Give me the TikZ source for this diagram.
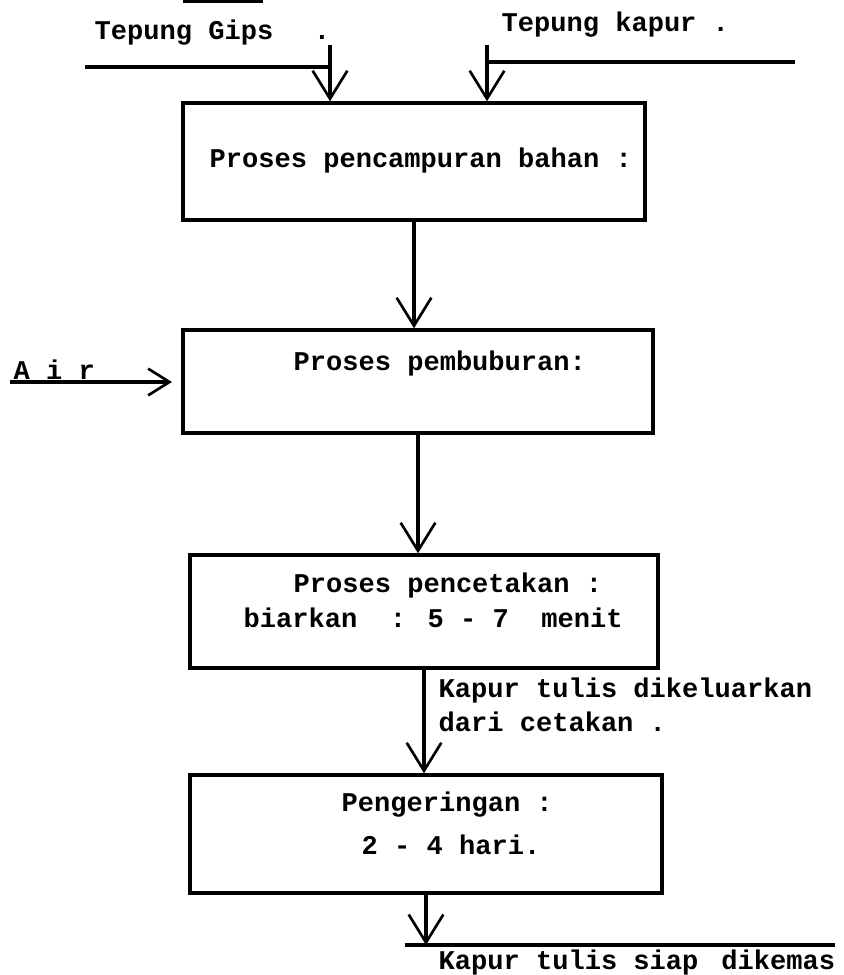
\documentclass[tikz,border=0pt]{standalone}
\usepackage{fontspec}
\setmainfont{Liberation Mono}
\usetikzlibrary{arrows.meta}
\begin{document}
\begin{tikzpicture}[x=0.75pt,y=-0.75pt,
  line width=2.4pt,
  box/.style={draw,line width=2.6pt,minimum width=#1,inner sep=0pt},
  txt/.style={font=\fontsize{20.3}{24}\selectfont\bfseries,inner sep=0pt,anchor=west},
  arr/.style={-{Straight Barb[length=21pt,width=26pt,line width=2pt]}},
  arrs/.style={-{Straight Barb[length=16pt,width=20pt,line width=2pt]}}]
\useasboundingbox (0,0) rectangle (843,975);
% boxes
\node[box=346.5pt,minimum height=87.75pt] (b1) at (414,161.5) {};
\node[box=352.5pt,minimum height=77.25pt] (b2) at (418,381.5) {};
\node[box=351pt,minimum height=84.75pt] (b3) at (424,611.5) {};
\node[box=354pt,minimum height=88.5pt] (b4) at (426,834) {};
% texts
\node[txt] (tg) at (93,33) {Tepung Gips~~\hspace{0.3em}.};
\node[txt] (tk) at (500,25) {Tepung kapur .};
\node[txt] (t1) at (208,160) {Proses pencampuran bahan :};
\node[txt] (t2) at (292,363) {Proses pembuburan:};
\node[txt] (air) at (12,370) {A i r};
\node[txt] (t3a) at (292,585) {Proses pencetakan :};
\node[txt] (t3b) at (242,618) {biarkan~~: 5 - 7~~menit};
\node[txt] (k1) at (437,690) {Kapur tulis dikeluarkan};
\node[txt] (k2) at (437,722) {dari cetakan .};
\node[txt] (t4a) at (340,805) {Pengeringan :};
\node[txt] (t4b) at (360,845) {2 - 4 hari.};
\node[txt] (fin) at (437,962) {Kapur tulis siap\hspace{0.25em} dikemas};
% coordinates
\coordinate (gtop) at (330,45);
\coordinate (gl) at (85,67);
\coordinate (ktop) at (487,45);
\coordinate (kr) at (795,62);
\coordinate (as) at (10,382);
\coordinate (ae) at (172,382);
\coordinate (out) at (426,945);
\coordinate (ol) at (405,945);
\coordinate (orr) at (835,945);
\coordinate (tl) at (183,1);
\coordinate (tr) at (263,1);
% lines
\draw (tl) -- (tr);
\draw (gl) -- (gl -| gtop);
\draw (ktop |- kr) -- (kr);
\draw (ol) -- (orr);
% arrows
\draw[arr] (gtop) -- (gtop |- b1.north);
\draw[arr] (ktop) -- (ktop |- b1.north);
\draw[arr] (b1.south) -- (b1.south |- b2.north);
\draw[arrs] (as) -- (ae);
\draw[arr] (b2.south) -- (b2.south |- b3.north);
\draw[arr] (b3.south) -- (b3.south |- b4.north);
\draw[arr] (b4.south) -- (out);
\end{tikzpicture}
\end{document}
